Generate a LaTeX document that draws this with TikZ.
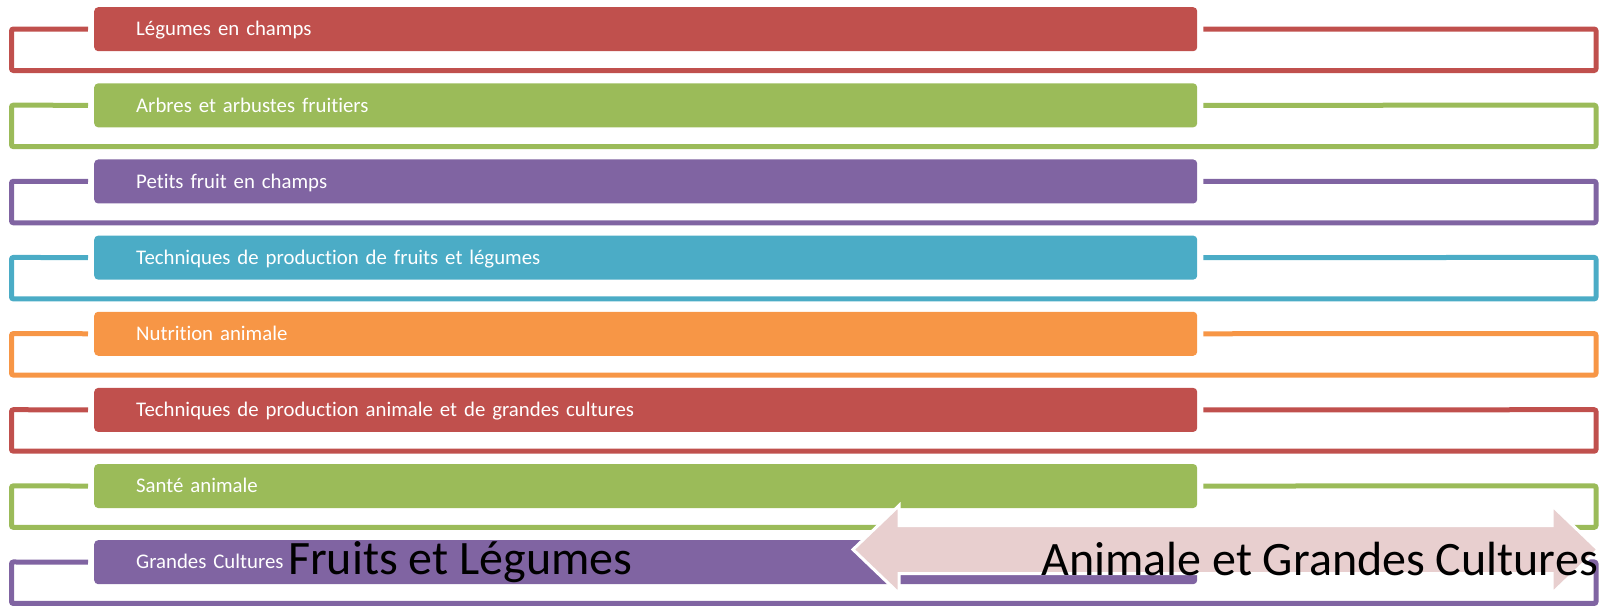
\documentclass[tikz,border=0pt]{standalone}
\usepackage{fontspec}
\setmainfont{Carlito}[Ligatures={TeX,NoCommon}]
\definecolor{cRed}{HTML}{C0504D}
\definecolor{cGreen}{HTML}{9BBB59}
\definecolor{cPurple}{HTML}{8064A2}
\definecolor{cAqua}{HTML}{4BACC6}
\definecolor{cOrange}{HTML}{F79646}
\definecolor{arrowpink}{HTML}{E8CFCF}
\begin{document}
\begin{tikzpicture}[x=1pt,y=-1pt,
  bar/.style={rounded corners=4pt, minimum width=1103pt, minimum height=44pt,
    inner xsep=42pt, inner ysep=0pt, text width=1019pt, align=left,
    anchor=north west, text=white, font=\fontsize{20.8}{24}\selectfont,
    text height=13.5pt, text depth=0pt},
  bracket/.style={line width=5pt, rounded corners=2pt},
  big/.style={font=\fontsize{48}{56}\selectfont, inner sep=0pt, text=black},
  twoarrow/.style={draw=white, line width=3pt, fill=arrowpink, line join=miter},
]
\useasboundingbox (0,0) rectangle (1616,605);
\foreach \i/\clr/\txt in {
  0/cRed/Légumes en champs,
  1/cGreen/Arbres et arbustes fruitiers,
  2/cPurple/Petits fruit en champs,
  3/cAqua/Techniques de production de fruits et légumes,
  4/cOrange/Nutrition animale,
  5/cRed/Techniques de production animale et de grandes cultures,
  6/cGreen/Santé animale,
  7/cPurple/Grandes Cultures} {
  \pgfmathsetmacro\rowtop{7+76.14*\i}
  \node[bar, fill=\clr] (bar\i) at (94,\rowtop) {\txt};
  \draw[bracket, draw=\clr] ([xshift=-6pt]bar\i.west) -- (11.5,\rowtop+22)
    -- (11.5,\rowtop+63.5) -- (1596,\rowtop+63.5) -- (1596,\rowtop+22)
    -- ([xshift=6pt]bar\i.east);
}
\draw[twoarrow] (853,549.5) -- (899,505.5) -- (899,525.5) -- (1552,525.5)
  -- (1552,505.5) -- (1598,549.5) -- (1552,593.5) -- (1552,573.5)
  -- (899,573.5) -- (899,593.5) -- cycle;
\node[big, anchor=base west] (fl) at (288,574) {Fruits et Légumes};
\node[big, anchor=base east] (agc) at (1598,575) {Animale et Grandes Cultures};
\end{tikzpicture}
\end{document}
